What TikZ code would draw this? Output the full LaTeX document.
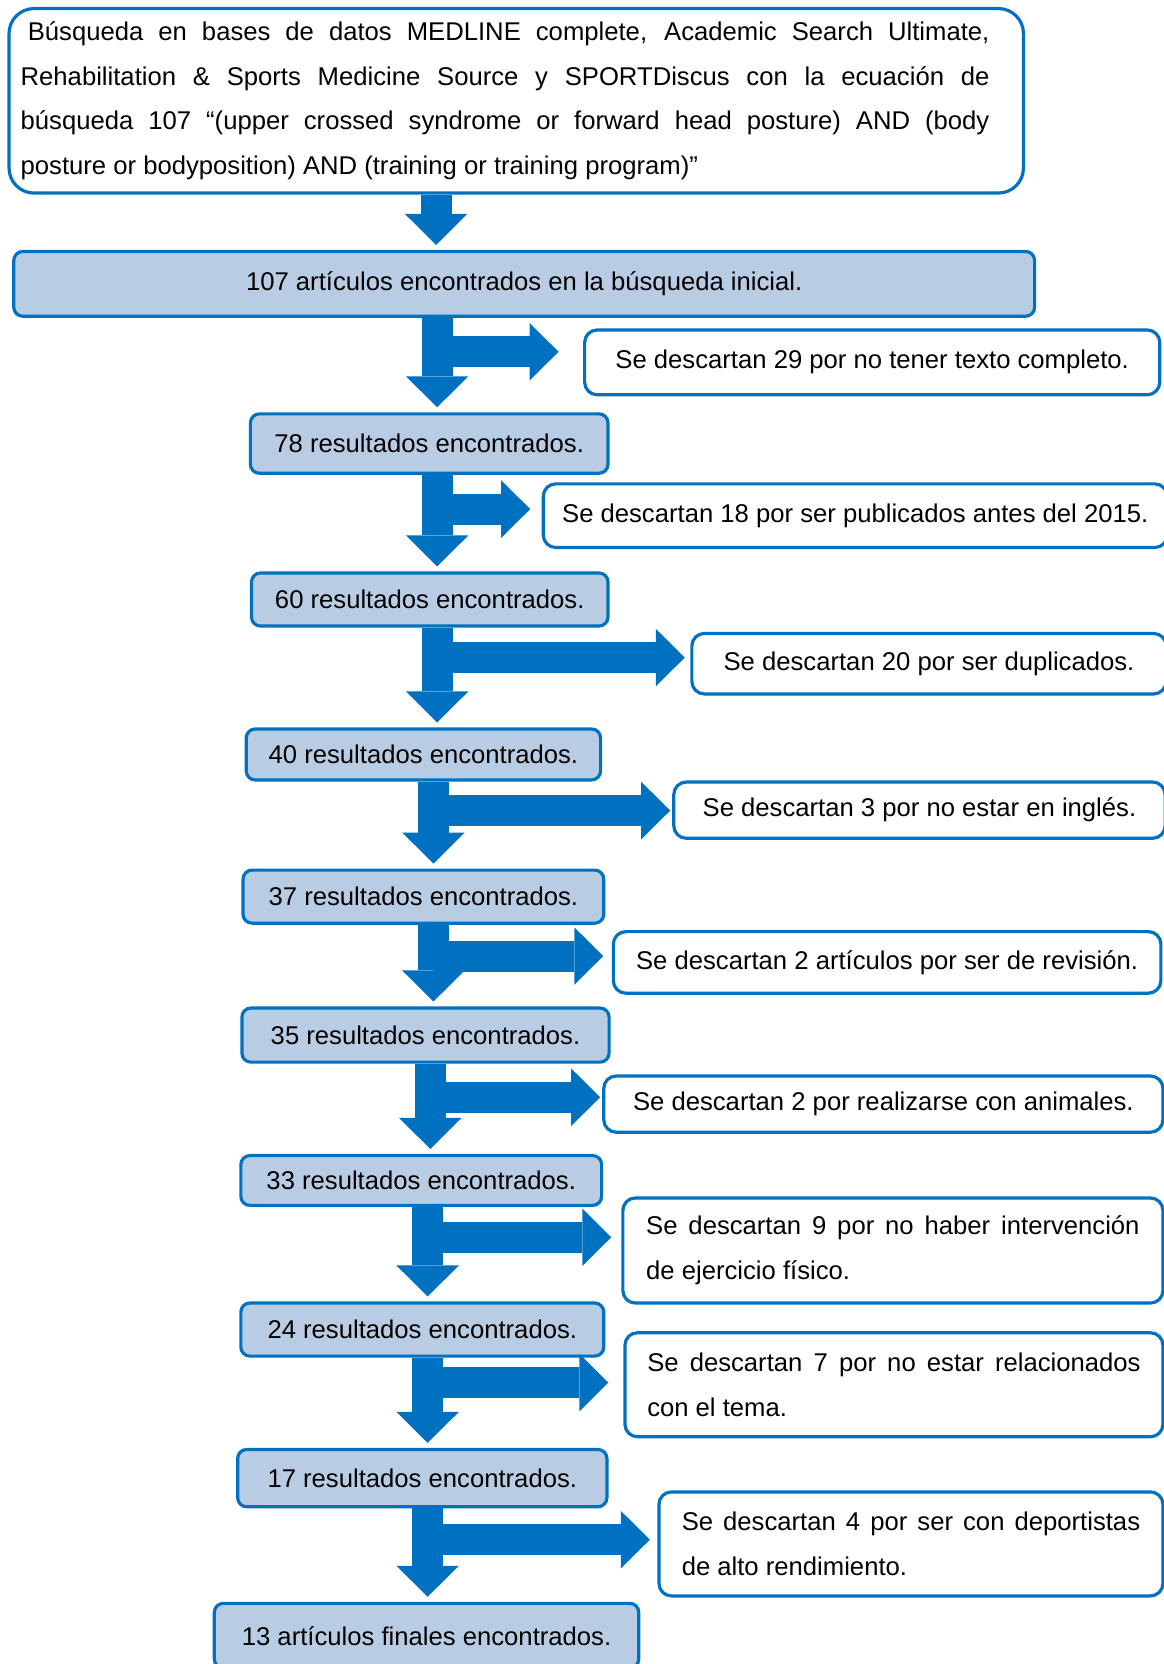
\documentclass[tikz,border=0pt]{standalone}
\usepackage{fontspec}
\setmainfont{Liberation Sans}
\usetikzlibrary{arrows.meta}
\definecolor{azul}{HTML}{0070C0}
\definecolor{celeste}{HTML}{B8CCE4}

\begin{document}
\begin{tikzpicture}[font=\fontsize{14.6}{17.5}\selectfont,
  caja/.style={draw=azul,line width=1.8pt,inner sep=0pt},
  resultado/.style={caja,fill=celeste,rounded corners=0.18cm},
  descarte/.style={caja,fill=white,rounded corners=0.25cm},
  dosfilas/.style={descarte,align=justify,font=\fontsize{14.6}{25.4}\selectfont},
  flecha/.style={draw=azul,line width=0.62cm,shorten >=0.1cm,-{Triangle[width=1.25cm,length=0.62cm,line width=0pt]}},
  rama/.style={draw=azul,line width=0.62cm,-{Triangle[width=1.15cm,length=0.58cm,line width=0pt]}}]
\useasboundingbox (0,0) rectangle (23.26,-33.28);
% busqueda inicial
\node[caja,rounded corners=0.5cm,inner xsep=0.233cm,minimum height=3.69cm,anchor=west] (busqueda) at (0.149,-2.016)
  {\parbox{19.376cm}{\fontsize{14.6}{25.4}\selectfont\hspace*{0.28em}Búsqueda en bases de datos MEDLINE complete, Academic Search Ultimate,\linebreak
   Rehabilitation \& Sports Medicine Source y SPORTDiscus con la ecuación de\linebreak
   búsqueda 107 “(upper crossed syndrome or forward head posture) AND (body\linebreak
   posture or bodyposition) AND (training or training program)”}\hspace*{0.446cm}};
% resultados
\node[resultado,minimum width=20.416cm,minimum height=1.295cm] (r107) at (10.484,-5.677) {107 artículos encontrados en la búsqueda inicial.};
\node[resultado,minimum width=7.152cm,minimum height=1.188cm] (r78) at (8.584,-8.871) {78 resultados encontrados.};
\node[resultado,minimum width=7.131cm,minimum height=1.061cm] (r60) at (8.595,-11.990) {60 resultados encontrados.};
\node[resultado,minimum width=7.088cm,minimum height=1.019cm] (r40) at (8.468,-15.089) {40 resultados encontrados.};
\node[resultado,minimum width=7.215cm,minimum height=1.061cm] (r37) at (8.468,-17.933) {37 resultados encontrados.};
\node[resultado,minimum width=7.343cm,minimum height=1.082cm] (r35) at (8.510,-20.702) {35 resultados encontrados.};
\node[resultado,minimum width=7.215cm,minimum height=0.997cm] (r33) at (8.425,-23.609) {33 resultados encontrados.};
\node[resultado,minimum width=7.258cm,minimum height=1.061cm] (r24) at (8.446,-26.591) {24 resultados encontrados.};
\node[resultado,minimum width=7.385cm,minimum height=1.146cm] (r17) at (8.446,-29.562) {17 resultados encontrados.};
\node[resultado,minimum width=8.489cm,minimum height=1.295cm] (r13) at (8.531,-32.714) {13 artículos finales encontrados.};
% descartes
\node[descarte,minimum width=11.502cm,minimum height=1.295cm] (d29) at (17.444,-7.247) {Se descartan 29 por no tener texto completo.};
\node[descarte,minimum width=12.479cm,minimum height=1.273cm] (d18) at (17.105,-10.314) {Se descartan 18 por ser publicados antes del 2015.};
\node[descarte,minimum width=9.486cm,minimum height=1.210cm] (d20) at (18.580,-13.274) {Se descartan 20 por ser duplicados.};
\node[descarte,minimum width=9.826cm,minimum height=1.125cm] (d3) at (18.389,-16.203) {Se descartan 3 por no estar en inglés.};
\node[descarte,minimum width=10.951cm,minimum height=1.231cm] (d2a) at (17.742,-19.248) {Se descartan 2 artículos por ser de revisión.};
\node[descarte,minimum width=11.184cm,minimum height=1.125cm] (d2b) at (17.667,-22.082) {Se descartan 2 por realizarse con animales.};
\node[dosfilas,text width=9.868cm,minimum width=10.802cm,minimum height=2.101cm] (d9) at (17.858,-25.010) {Se descartan 9 por no haber intervención\linebreak de ejercicio físico.};
\node[dosfilas,text width=9.868cm,minimum width=10.760cm,minimum height=2.080cm] (d7) at (17.879,-27.695) {Se descartan 7 por no estar relacionados\linebreak con el tema.};
\node[dosfilas,text width=9.168cm,minimum width=10.080cm,minimum height=2.080cm] (d4) at (18.219,-30.878) {Se descartan 4 por ser con deportistas\linebreak de alto rendimiento.};
% flechas hacia abajo
\draw[flecha] (busqueda.south -| 8.722,0) -- (r107.north -| 8.722,0);
\draw[flecha] (r107.south -| 8.743,0) -- (r78.north -| 8.743,0);
\draw[flecha] (r78.south -| 8.743,0) -- (r60.north -| 8.743,0);
\draw[flecha] (r60.south -| 8.743,0) -- (r40.north -| 8.743,0);
\draw[flecha] (r40.south -| 8.669,0) -- (r37.north -| 8.669,0);
\draw[flecha] (r37.south -| 8.669,0) -- (r35.north -| 8.669,0);
\draw[flecha] (r35.south -| 8.606,0) -- (r33.north -| 8.606,0);
\draw[flecha] (r33.south -| 8.553,0) -- (r24.north -| 8.553,0);
\draw[flecha] (r24.south -| 8.553,0) -- (r17.north -| 8.553,0);
\draw[flecha] (r17.south -| 8.553,0) -- (r13.north -| 8.553,0);
% ramas hacia los descartes
\coordinate (c29) at (8.743,-7.035);
\coordinate (c18) at (8.743,-10.182);
\coordinate (c20) at (8.743,-13.151);
\coordinate (c3) at (8.669,-16.211);
\coordinate (c2a) at (8.669,-19.121);
\coordinate (c2b) at (8.606,-21.944);
\coordinate (c9) at (8.553,-24.745);
\coordinate (c7) at (8.553,-27.652);
\coordinate (c4) at (8.553,-30.793);
\draw[rama,shorten >=0.49cm] (c29) -- (d29.west |- c29);
\draw[rama,shorten >=0.23cm] (c18) -- (d18.west |- c18);
\draw[rama,shorten >=0.11cm] (c20) -- (d20.west |- c20);
\draw[rama,shorten >=0.04cm] (c3) -- (d3.west |- c3);
\draw[rama,shorten >=0.17cm] (c2a) -- (d2a.west |- c2a);
\draw[rama,shorten >=0.04cm] (c2b) -- (d2b.west |- c2b);
\draw[rama,shorten >=0.20cm] (c9) -- (d9.west |- c9);
\draw[rama,shorten >=0.30cm] (c7) -- (d7.west |- c7);
\draw[rama,shorten >=0.15cm] (c4) -- (d4.west |- c4);
\end{tikzpicture}
\end{document}
